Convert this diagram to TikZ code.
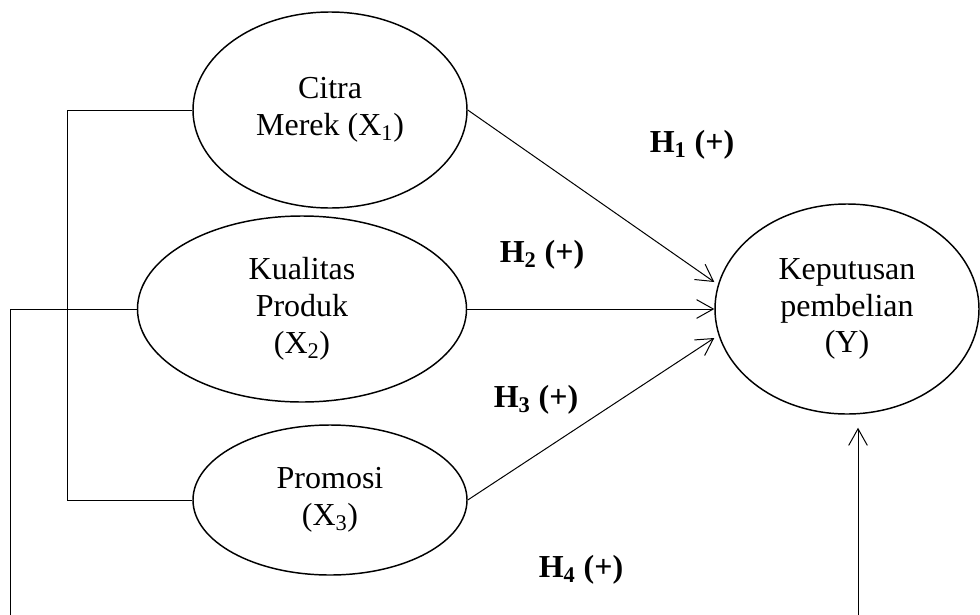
\documentclass[tikz,border=0pt]{standalone}
\usepackage{fontspec}
\setmainfont{Liberation Serif}
\usetikzlibrary{shapes.geometric,arrows.meta}
\begin{document}
\begin{tikzpicture}[x=0.75pt,y=-0.75pt,
    var/.style={draw,ellipse,line width=1.1pt,inner sep=0pt,align=center,font=\fontsize{24}{27.6}\selectfont},
    hyp/.style={line width=0.75pt,-{Straight Barb[length=12.5pt,width=14pt]}},
    lbl/.style={font=\fontsize{24}{27.6}\selectfont\bfseries}]
        \useasboundingbox (0,0) rectangle (980,614);
        \clip (0,0) rectangle (980,614);
        \node[var,minimum width=205.5pt,minimum height=147pt] (x1) at (330,110) {Citra\\Merek (X\textsubscript{1})};
        \node[var,minimum width=246.75pt,minimum height=139.5pt] (x2) at (302,309) {Kualitas\\Produk\\(X\textsubscript{2})};
        \node[var,minimum width=205.5pt,minimum height=112.5pt] (x3) at (330,500) {Promosi\\(X\textsubscript{3})};
        \node[var,minimum width=198pt,minimum height=157.5pt] (y) at (847,309) {Keputusan\\pembelian\\(Y)};
        \draw[line width=0.75pt] (x1.west) -- ++(-125,0) |- (x3.west);
        \draw[hyp] (x1.east) -- ([yshift=20.25pt]y.west);
        \draw[hyp] (x2.east) -- (y.west);
        \draw[hyp] (x3.east) -- ([yshift=-21.75pt]y.west);
        \draw[hyp] (x2.west) -| (10,650) -| ([xshift=8.25pt,yshift=-9.75pt]y.south);
        \node[lbl] (h1) at (692,145) {H\textsubscript{1} (+)};
        \node[lbl] (h2) at (542,255) {H\textsubscript{2} (+)};
        \node[lbl] (h3) at (536,400) {H\textsubscript{3} (+)};
        \node[lbl] (h4) at (581,570) {H\textsubscript{4} (+)};
    \end{tikzpicture}
\end{document}
